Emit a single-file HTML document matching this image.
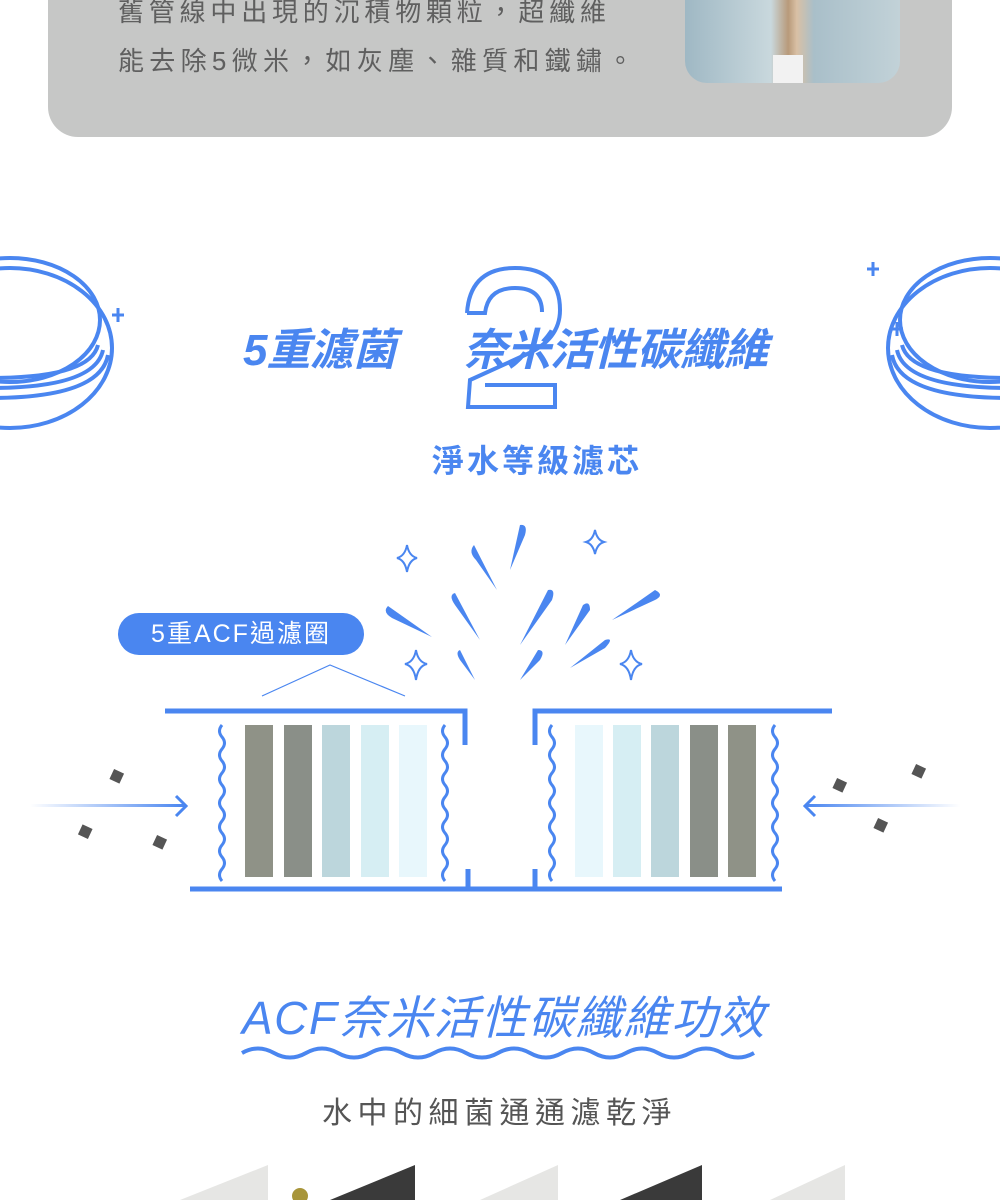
<!DOCTYPE html>
<html><head><meta charset="utf-8"><style>
body{margin:0;width:1000px;height:1200px;background:#fff;position:relative;overflow:hidden;font-family:"Liberation Sans","Noto Sans CJK TC",sans-serif}
.card{position:absolute;left:48px;top:-40px;width:904px;height:177px;background:#c6c7c6;border-radius:30px}
.t{position:absolute;white-space:nowrap}
</style></head><body>
<div class="card"></div>
<div class="t" style="left:118px;top:-8px;font-size:26px;color:#5f5f5f;letter-spacing:4.8px">舊管線中出現的沉積物顆粒，超纖維</div>
<div class="t" style="left:118px;top:41px;font-size:26px;color:#5f5f5f;letter-spacing:5.3px">能去除5微米，如灰塵、雜質和鐵鏽。</div>
<div style="position:absolute;left:685px;top:0;width:215px;height:83px;border-radius:0 0 22px 22px;background:linear-gradient(90deg,#9fb8c4,#c9d8dd 40%,#b89a7a 48%,#d9c0a5 52%,#a9bfc9 60%,#c2d2d8)"></div>
<div style="position:absolute;left:773px;top:55px;width:30px;height:28px;background:#f2f2f2"></div>
<svg width="1000" height="1200" style="position:absolute;left:0;top:0" fill="none" stroke="#4a86f0">
<g stroke-width="4">
<ellipse cx="10" cy="320" rx="90" ry="62"/>
<path d="M-10 378 Q90 378 98 345"/><path d="M-10 388 Q95 388 103 350"/><path d="M-10 398 Q100 398 108 355"/>
<ellipse cx="10" cy="348" rx="102" ry="80"/>
</g>
<path d="M118 308v14M112 315h12" stroke-width="3"/>
<g stroke-width="4">
<ellipse cx="990" cy="320" rx="90" ry="62"/>
<path d="M1010 378 Q910 378 902 345"/><path d="M1010 388 Q905 388 897 350"/><path d="M1010 398 Q900 398 892 355"/>
<ellipse cx="990" cy="348" rx="102" ry="80"/>
</g>
<path d="M873 262v14M867 269h12M897 322v14M891 329h12" stroke-width="3"/>
<path d="M467 313 Q470 268 515 268 Q560 268 560 310 Q560 340 525 355 L470 380 L468 407 L555 407 L555 385 L485 385" stroke-width="4"/>
<path d="M467 313 L485 313 Q488 288 515 288 Q542 288 542 312" stroke-width="4"/>
<g stroke-width="2">
<path d="M407 545 Q409 556 417 558 Q409 560 407 572 Q405 560 397 558 Q405 556 407 545Z"/>
<path d="M595 530 Q597 540 604 542 Q597 544 595 554 Q593 544 586 542 Q593 540 595 530Z"/>
<path d="M416 650 Q418 662 427 664 Q418 666 416 680 Q414 666 405 664 Q414 662 416 650Z"/>
<path d="M631 650 Q633 662 642 664 Q633 666 631 680 Q629 666 620 664 Q629 662 631 650Z"/>
</g>
<g fill="#4a86f0" stroke="none">
<path d="M474 545 Q468 552 476 560 L497 590 Z"/>
<path d="M520 525 Q528 524 525 535 L510 570 Z"/>
<path d="M548 590 Q556 588 552 600 L520 645 Z"/>
<path d="M583 605 Q590 600 590 610 L565 645 Z"/>
<path d="M655 590 Q665 595 655 600 L612 620 Z"/>
<path d="M388 606 Q382 612 392 618 L432 637 Z"/>
<path d="M455 593 Q448 595 455 605 L480 640 Z"/>
<path d="M460 650 Q455 652 460 660 L475 680 Z"/>
<path d="M538 650 Q546 650 540 660 L520 680 Z"/>
<path d="M605 640 Q615 637 605 648 L570 668 Z"/>
</g>
<path d="M262 696 L330 665 L405 696" stroke-width="1.2"/>
<g stroke-width="5">
<path d="M165 711 H465 V745"/><path d="M832 711 H535 V745"/>
<path d="M190 889 H782"/><path d="M468 869 V889M535 869 V889"/>
</g>
<g stroke-width="3">
<path id="w" d="M222 725 q-5 6 0 12 q5 6 0 12 q-5 6 0 12 q5 6 0 12 q-5 6 0 12 q5 6 0 12 q-5 6 0 12 q5 6 0 12 q-5 6 0 12 q5 6 0 12 q-5 6 0 12 q5 6 0 12 q-5 6 0 12"/>
<use href="#w" x="223"/><use href="#w" x="330"/><use href="#w" x="553"/>
</g>
<g stroke="none">
<rect x="245" y="725" width="28" height="152" fill="#8f9287"/>
<rect x="284" y="725" width="28" height="152" fill="#8a8f88"/>
<rect x="322" y="725" width="28" height="152" fill="#bcd6dc"/>
<rect x="361" y="725" width="28" height="152" fill="#d6eef3"/>
<rect x="399" y="725" width="28" height="152" fill="#e8f7fc"/>
<rect x="575" y="725" width="28" height="152" fill="#e8f7fc"/>
<rect x="613" y="725" width="28" height="152" fill="#d6eef3"/>
<rect x="651" y="725" width="28" height="152" fill="#bcd6dc"/>
<rect x="690" y="725" width="28" height="152" fill="#8a8f88"/>
<rect x="728" y="725" width="28" height="152" fill="#8f9287"/>
</g>
<defs>
<linearGradient id="gl" x1="0" x2="1"><stop offset="0" stop-color="#4a86f0" stop-opacity="0"/><stop offset="1" stop-color="#4a86f0"/></linearGradient>
<linearGradient id="gr" x1="1" x2="0"><stop offset="0" stop-color="#4a86f0" stop-opacity="0"/><stop offset="1" stop-color="#4a86f0"/></linearGradient>
</defs>
<rect x="30" y="804" width="155" height="3" fill="url(#gl)" stroke="none"/>
<path d="M176 796 L186 806 L176 816" stroke-width="3"/>
<rect x="805" y="804" width="155" height="3" fill="url(#gr)" stroke="none"/>
<path d="M815 796 L805 806 L815 816" stroke-width="3"/>
<g fill="#555" stroke="none">
<rect x="111" y="771" width="11" height="11" transform="rotate(25 117 777)"/>
<rect x="80" y="826" width="11" height="11" transform="rotate(25 85 831)"/>
<rect x="154" y="837" width="11" height="11" transform="rotate(25 160 843)"/>
<rect x="834" y="780" width="11" height="11" transform="rotate(25 840 786)"/>
<rect x="913" y="766" width="11" height="11" transform="rotate(25 919 772)"/>
<rect x="875" y="820" width="11" height="11" transform="rotate(25 881 826)"/>
</g>
<path d="M242 1053 q16 -9 32 0 t32 0 t32 0 t32 0 t32 0 t32 0 t32 0 t32 0 t32 0 t32 0 t32 0 t32 0 t32 0 t32 0 t32 0 t32 0" stroke-width="4"/>
<g stroke="none">
<path d="M180 1200 L268 1165 L268 1200Z" fill="#e6e6e4"/>
<path d="M330 1200 L415 1165 L415 1200Z" fill="#3a3a3a"/>
<circle cx="300" cy="1196" r="8" fill="#a8953a"/>
<path d="M480 1200 L558 1165 L558 1200Z" fill="#e6e6e4"/>
<path d="M620 1200 L702 1165 L702 1200Z" fill="#3a3a3a"/>
<path d="M770 1200 L845 1165 L845 1200Z" fill="#e6e6e4"/>
</g>
</svg>
<div class="t" style="left:243px;top:314px;font-size:44px;font-weight:bold;font-style:italic;color:#4a86f0;letter-spacing:-1px">5重濾菌</div>
<div class="t" style="left:463px;top:314px;font-size:44px;font-weight:bold;font-style:italic;color:#4a86f0;letter-spacing:-0.5px">奈米活性碳纖維</div>
<div class="t" style="left:432px;top:436px;font-size:32px;font-weight:bold;color:#4a86f0;letter-spacing:3px">淨水等級濾芯</div>
<div class="t" style="left:118px;top:613px;width:246px;height:42px;border-radius:21px;background:#4a86f0;color:#fff;font-size:25px;line-height:42px;text-align:center;letter-spacing:2px">5重ACF過濾圈</div>
<div class="t" style="left:242px;top:982px;font-size:46px;font-style:italic;color:#4a86f0;letter-spacing:1.5px">ACF奈米活性碳纖維功效</div>
<div class="t" style="left:322px;top:1088px;font-size:30px;color:#555;letter-spacing:5.5px">水中的細菌通通濾乾淨</div>
</body></html>
